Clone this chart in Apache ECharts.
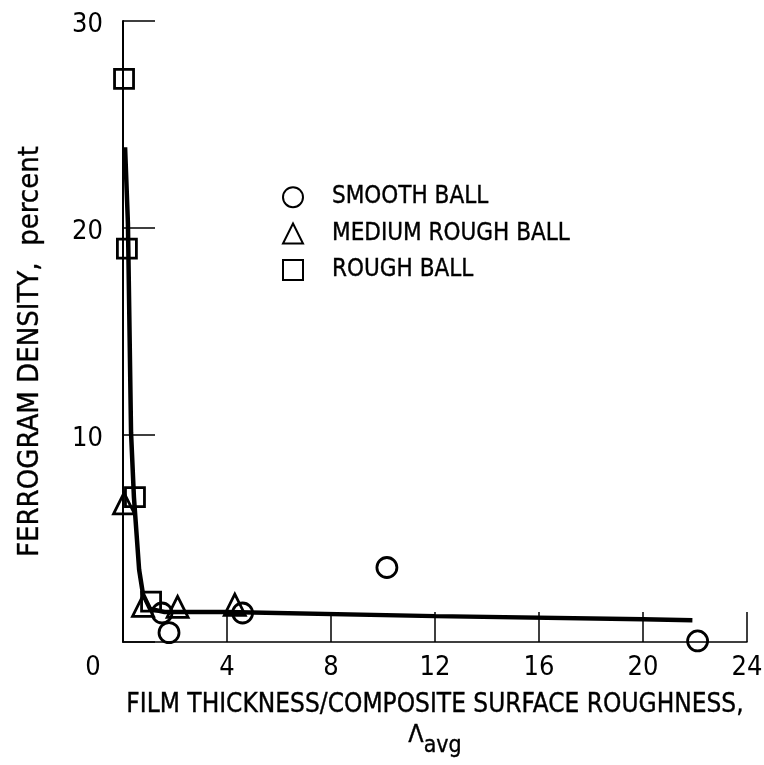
<!DOCTYPE html>
<html><head><meta charset="utf-8">
<script src="https://cdn.jsdelivr.net/npm/echarts@6/dist/echarts.min.js"></script>
<style>html,body{margin:0;padding:0;background:#fff}#c{width:764px;height:765px}</style>
</head><body><div id="c"></div>
<script>
// Smooth ball (circles)
const smoothX = [1.5, 1.77, 4.6, 10.15, 22.1];
const smoothY = [1.4, 0.45, 1.4, 3.6, 0.05];
// Medium rough ball (triangles)
const mediumX = [0.04, 0.77, 2.1, 4.3];
const mediumY = [6.7, 1.75, 1.7, 1.8];
// Rough ball (squares)
const roughX = [0.04, 0.15, 0.46, 1.08];
const roughY = [27.2, 19.0, 7.0, 1.95];
// Fitted curve
const curveX = [0.08, 0.19, 0.31, 0.42, 0.62, 0.77, 1.04, 1.6, 4.0, 12, 20, 21.9];
const curveY = [23.9, 20.2, 10.1, 7.0, 3.5, 2.3, 1.6, 1.45, 1.45, 1.25, 1.1, 1.05];
// Tick labels
const xTicks = [0, 4, 8, 12, 16, 20, 24];
const yTicks = [0, 10, 20, 30];
const seriesNames = ['SMOOTH BALL', 'MEDIUM ROUGH BALL', 'ROUGH BALL'];

const FONT = '"Liberation Sans Narrow", "DejaVu Sans Condensed", sans-serif';
const BOLDISH = {textBorderColor: '#000', textBorderWidth: 0.35};
const pairs = (xs, ys) => xs.map((x, i) => [x, ys[i]]);
const mk = {color: 'rgba(0,0,0,0)', borderColor: '#000', borderWidth: 2.8, opacity: 1};

const chart = echarts.init(document.getElementById('c'));
chart.setOption({
  animation: false,
  backgroundColor: '#fff',
  grid: {left: 123, right: 17, top: 21, bottom: 123, containLabel: false, outerBoundsMode: 'none'},
  legend: {
    orient: 'vertical', left: 282, top: 185, padding: 0,
    itemWidth: 20, itemHeight: 20, itemGap: 12,
    data: seriesNames,
    textStyle: Object.assign({fontFamily: FONT, fontSize: 24, color: '#000', padding: [0, 0, 0, 24]}, BOLDISH)
  },
  xAxis: {
    type: 'value', min: 0, max: 24, interval: 4,
    axisLine: {show: true, onZero: false, lineStyle: {color: '#000', width: 1.5}},
    axisTick: {show: true, inside: true, length: 30, lineStyle: {color: '#000', width: 1.5}},
    splitLine: {show: false},
    axisLabel: {
      margin: 12, color: '#000', fontFamily: FONT, fontSize: 27,
      formatter: v => xTicks.indexOf(v) === 0 ? '{z|' + v + '}' : String(v),
      rich: {z: {fontFamily: FONT, fontSize: 27, color: '#000', padding: [0, 60, 0, 0]}}
    },
    name: '{t|FILM THICKNESS/COMPOSITE SURFACE ROUGHNESS,}\n{L|Λ}{s|avg}',
    nameLocation: 'middle', nameGap: 46,
    nameTextStyle: {
      rich: {
        t: Object.assign({fontFamily: FONT, fontSize: 26, color: '#000', lineHeight: 34}, BOLDISH),
        L: Object.assign({fontFamily: FONT, fontSize: 25, color: '#000', verticalAlign: 'bottom', padding: [0, 0, 10, 0], lineHeight: 36}, BOLDISH),
        s: Object.assign({fontFamily: FONT, fontSize: 23, color: '#000', verticalAlign: 'bottom', lineHeight: 36}, BOLDISH)
      }
    }
  },
  yAxis: {
    type: 'value', min: 0, max: 30, interval: 10,
    axisLine: {show: true, onZero: false, lineStyle: {color: '#000', width: 2}},
    axisTick: {show: true, inside: true, length: 32, lineStyle: {color: '#000', width: 1.5}},
    splitLine: {show: false},
    axisLabel: {
      margin: 20, color: '#000', fontFamily: FONT, fontSize: 27,
      formatter: v => (v === yTicks[0] ? '' : '{n|' + v + '}'),
      rich: {n: {fontFamily: FONT, fontSize: 27, color: '#000', padding: [8, 0, 0, 0]}}
    },
    name: 'FERROGRAM DENSITY,  percent',
    nameLocation: 'middle', nameGap: 78, nameRotate: 90,
    nameTextStyle: Object.assign({fontFamily: FONT, fontSize: 29, color: '#000', padding: [0, 40, 0, 0]}, BOLDISH)
  },
  series: [
    {name: 'fit', type: 'line', data: pairs(curveX, curveY), showSymbol: false, symbol: 'none',
     lineStyle: {color: '#000', width: 4.5}, z: 1},
    {name: seriesNames[0], type: 'scatter', symbol: 'circle', symbolSize: 20, data: pairs(smoothX, smoothY), itemStyle: mk, z: 3},
    {name: seriesNames[1], type: 'scatter', symbol: 'triangle', symbolSize: 21, data: pairs(mediumX, mediumY), itemStyle: mk, z: 3},
    {name: seriesNames[2], type: 'scatter', symbol: 'rect', symbolSize: 19, data: pairs(roughX, roughY), itemStyle: mk, z: 3}
  ]
});
</script></body></html>
